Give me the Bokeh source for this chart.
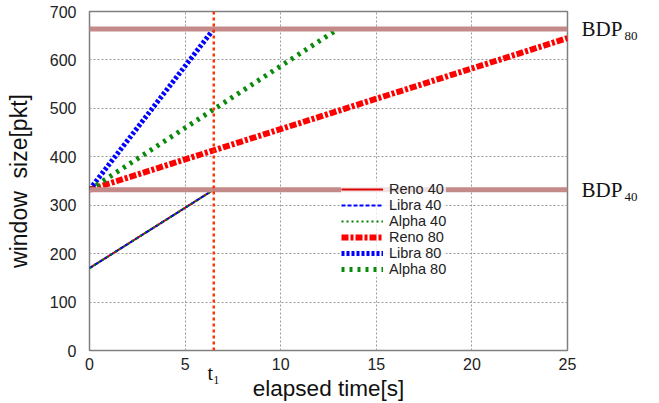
from bokeh.plotting import figure
from bokeh.models import Legend, LegendItem, Span, FixedTicker, Range1d, LinearAxis
from bokeh.embed import file_html
from bokeh.resources import INLINE

# ---- data ----
x_ticks = [0, 5, 10, 15, 20, 25]
y_ticks = [0, 100, 200, 300, 400, 500, 600, 700]

t1 = 6.5
bdp40 = 332
bdp80 = 664

t_40 = [0, 6.5]
w_reno40 = [170, 332]
w_libra40 = [170, 332]
w_alpha40 = [170, 332]

t_reno80 = [0, 25]
w_reno80 = [332, 645]
t_libra80 = [0, 6.5]
w_libra80 = [332, 664]
t_alpha80 = [0, 13.0]
w_alpha80 = [332, 664]

SANS = "Liberation Sans"
SERIF = "Liberation Serif"
NB = "\u00a0"

Y0, Y1 = 0, 700
p = figure(width=659, height=403, output_backend="svg", toolbar_location=None,
           x_range=Range1d(0, 25), y_range=Range1d(Y0, Y1))
p.min_border_left = 89
p.min_border_right = 92
p.min_border_top = 11
p.min_border_bottom = 40
p.outline_line_color = "#808080"
p.outline_line_width = 1.5
p.background_fill_color = "white"
p.border_fill_color = "white"

# subscripts sit ~7 px below the main label: shifted copy of the y range
sub_shift = 15
p.extra_y_ranges = {"sub": Range1d(Y0 + sub_shift, Y1 + sub_shift)}


def plain(ax):
    ax.axis_line_color = None
    ax.major_tick_line_color = None
    ax.minor_tick_line_color = None
    ax.major_tick_out = 0
    ax.major_tick_in = 0
    ax.minor_tick_out = 0
    ax.minor_tick_in = 0
    ax.axis_label_text_font_style = "normal"


for ax in (p.xaxis[0], p.yaxis[0]):
    plain(ax)
    ax.major_label_text_font = SANS
    ax.major_label_text_font_size = "16px"
    ax.major_label_text_color = "#222222"
    ax.axis_label_text_font = SANS
    ax.axis_label_text_color = "#111111"

p.xaxis.ticker = FixedTicker(ticks=x_ticks)
p.yaxis.ticker = FixedTicker(ticks=y_ticks)
p.yaxis.axis_label = "window" + NB + NB + "size[pkt]"
p.yaxis.axis_label_text_font_size = "23px"
p.xaxis.major_label_standoff = 7
p.yaxis.major_label_standoff = 13
p.yaxis.axis_label_standoff = 15

# second bottom axis: t1 marker label + axis title
t_axis = LinearAxis(ticker=FixedTicker(ticks=[t1]),
                    major_label_overrides={t1: "t\u2081"})
plain(t_axis)
t_axis.major_label_text_font = SERIF
t_axis.major_label_text_font_size = "20px"
t_axis.major_label_text_color = "#111111"
t_axis.major_label_standoff = -11
t_axis.axis_label = "elapsed time[s]"
t_axis.axis_label_text_font = SANS
t_axis.axis_label_text_font_size = "22.5px"
t_axis.axis_label_text_color = "#111111"
t_axis.axis_label_standoff = -11
p.add_layout(t_axis, "below")

# right axes: "BDP" and its subscript
bdp_axis = LinearAxis(ticker=FixedTicker(ticks=[bdp40, bdp80]),
                      major_label_overrides={bdp40: "BDP", bdp80: "BDP"})
plain(bdp_axis)
bdp_axis.major_label_text_font = SERIF
bdp_axis.major_label_text_font_size = "21px"
bdp_axis.major_label_text_color = "#111111"
bdp_axis.major_label_standoff = 14
p.add_layout(bdp_axis, "right")

sub_axis = LinearAxis(y_range_name="sub", ticker=FixedTicker(ticks=[bdp40, bdp80]),
                      major_label_overrides={bdp40: "40", bdp80: "80"})
plain(sub_axis)
sub_axis.major_label_text_font = SERIF
sub_axis.major_label_text_font_size = "13px"
sub_axis.major_label_text_color = "#111111"
sub_axis.major_label_standoff = -1
p.add_layout(sub_axis, "right")

p.xgrid.grid_line_color = "#9a9a9a"
p.ygrid.grid_line_color = "#9a9a9a"
p.xgrid.grid_line_dash = "2 2"
p.ygrid.grid_line_dash = "2 2"
p.xgrid.grid_line_width = 1
p.ygrid.grid_line_width = 1

# BDP lines
bdp_color = "#c48a8a"
p.add_layout(Span(location=bdp40, dimension="width", line_color=bdp_color, line_width=5))
p.add_layout(Span(location=bdp80, dimension="width", line_color=bdp_color, line_width=5))

# t1 vertical
p.add_layout(Span(location=t1, dimension="height", line_color="#ff3300",
                  line_width=2.5, line_dash="3 3"))

r_reno40 = p.line(t_40, w_reno40, line_color="#e00000", line_width=2)
r_libra40 = p.line(t_40, w_libra40, line_color="#0000ff", line_width=2, line_dash="4 2")
r_alpha40 = p.line(t_40, w_alpha40, line_color="#008000", line_width=2, line_dash="2 3")
r_reno80 = p.line(t_reno80, w_reno80, line_color="#ff0000", line_width=6, line_dash="7 2 3 2")
r_libra80 = p.line(t_libra80, w_libra80, line_color="#0000ff", line_width=5, line_dash="3 2")
r_alpha80 = p.line(t_alpha80, w_alpha80, line_color="#0a8a0a", line_width=5, line_dash="3 5")

legend = Legend(items=[
    LegendItem(label="Reno 40", renderers=[r_reno40]),
    LegendItem(label="Libra 40", renderers=[r_libra40]),
    LegendItem(label="Alpha 40", renderers=[r_alpha40]),
    LegendItem(label="Reno 80", renderers=[r_reno80]),
    LegendItem(label="Libra 80", renderers=[r_libra80]),
    LegendItem(label="Alpha 80", renderers=[r_alpha80]),
], location=(252, 73))
legend.background_fill_color = "white"
legend.background_fill_alpha = 0.75
legend.border_line_color = None
legend.padding = 4
legend.spacing = 0
legend.margin = 0
legend.label_height = 14
legend.glyph_height = 14
legend.glyph_width = 42
legend.label_standoff = 6
legend.label_text_font = SANS
legend.label_text_font_size = "14.5px"
legend.label_text_color = "#222222"
p.add_layout(legend)

open("out.html", "w").write(file_html(p, INLINE))
